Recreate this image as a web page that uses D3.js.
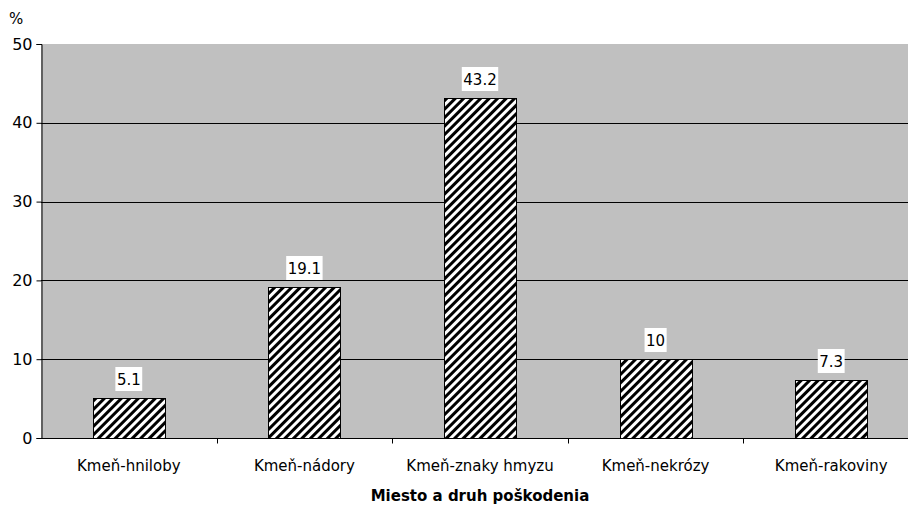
<!DOCTYPE html>
<html>
<head>
<meta charset="utf-8">
<script src="https://cdn.jsdelivr.net/npm/d3@7"></script>
<style>
  html, body { margin: 0; padding: 0; background: #fff; }
  svg { display: block; }
  text { font-family: "DejaVu Sans", sans-serif; fill: #000; }
</style>
</head>
<body>
<svg id="chart" width="908" height="506"></svg>
<script>
// Poškodenie kmeňa podľa druhu (%)
const categories = ["Kmeň-hniloby", "Kmeň-nádory", "Kmeň-znaky hmyzu", "Kmeň-nekrózy", "Kmeň-rakoviny"];
const values = [5.1, 19.1, 43.2, 10, 7.3];
const yTicks = [0, 10, 20, 30, 40, 50];
const yUnit = "%";
const xTitle = "Miesto a druh poškodenia";

const svg = d3.select("#chart");
const margin = { left: 41, top: 44, right: 919, bottom: 438 };

const x = d3.scaleBand().domain(categories).range([margin.left, margin.right]).paddingInner(0.59).paddingOuter(0.295);
const y = d3.scaleLinear().domain([0, 50]).range([margin.bottom, margin.top]);

// diagonal hatch fill for bars
const defs = svg.append("defs");
const pat = defs.append("pattern")
  .attr("id", "hatch").attr("patternUnits", "userSpaceOnUse")
  .attr("width", 6).attr("height", 6)
  .attr("patternTransform", "rotate(45)");
pat.append("rect").attr("width", 6).attr("height", 6).attr("fill", "#fff");
pat.append("rect").attr("x", 0).attr("width", 3).attr("height", 6).attr("fill", "#000");

// plot background
svg.append("rect")
  .attr("x", margin.left).attr("y", margin.top)
  .attr("width", margin.right - margin.left).attr("height", margin.bottom - margin.top)
  .attr("fill", "#c0c0c0");

// gridlines
svg.append("g").selectAll("line").data(yTicks.filter(d => d > 0 && d < 50)).join("line")
  .attr("x1", margin.left).attr("x2", margin.right)
  .attr("y1", d => Math.round(y(d)) + 0.5).attr("y2", d => Math.round(y(d)) + 0.5)
  .attr("stroke", "#000").attr("stroke-width", 1);

// y axis
const yAxis = svg.append("g")
  .attr("transform", `translate(${margin.left + 0.5},0)`)
  .call(d3.axisLeft(y).tickValues(yTicks).tickSize(5).tickPadding(4).tickFormat(d3.format("d")));
yAxis.select(".domain").attr("stroke", "#000");
yAxis.selectAll("text")
  .style("font-size", "16px")
  .attr("font-family", "DejaVu Sans Condensed, DejaVu Sans, sans-serif");

// x axis with ticks at band boundaries
const xAxisG = svg.append("g").attr("transform", `translate(0,${margin.bottom + 0.5})`);
xAxisG.append("line").attr("x1", margin.left).attr("x2", margin.right).attr("stroke", "#000");
const boundaries = d3.range(1, categories.length).map(i => margin.left + i * (margin.right - margin.left) / categories.length);
xAxisG.selectAll("line.tick").data(boundaries).join("line")
  .attr("class", "tick")
  .attr("x1", d => Math.round(d) + 0.5).attr("x2", d => Math.round(d) + 0.5)
  .attr("y1", 0).attr("y2", 5).attr("stroke", "#000");
xAxisG.selectAll("text").data(categories).join("text")
  .attr("x", d => x(d) + x.bandwidth() / 2)
  .attr("y", 32)
  .attr("text-anchor", "middle")
  .style("font-size", "15px")
  .text(d => d);

// bars
svg.append("g").selectAll("rect").data(values).join("rect")
  .attr("x", (d, i) => Math.round(x(categories[i])) + 0.5)
  .attr("y", d => Math.round(y(d)) + 0.5)
  .attr("width", x.bandwidth())
  .attr("height", d => Math.round(y(0)) - Math.round(y(d)))
  .attr("fill", "url(#hatch)")
  .attr("stroke", "#000").attr("stroke-width", 1);

// value labels with white boxes
const labels = svg.append("g").selectAll("g").data(values).join("g")
  .attr("transform", (d, i) => `translate(${x(categories[i]) + x.bandwidth() / 2},${Math.round(y(d)) - 13})`);
labels.append("text")
  .attr("text-anchor", "middle")
  .style("font-size", "15px")
  .attr("font-family", "DejaVu Sans Condensed, DejaVu Sans, sans-serif")
  .text(d => String(d));
labels.each(function () {
  const g = d3.select(this);
  const bb = g.select("text").node().getBBox();
  g.insert("rect", "text")
    .attr("x", bb.x - 1.5).attr("y", -18)
    .attr("width", bb.width + 3).attr("height", 24)
    .attr("fill", "#fff");
});

// unit label and axis title
svg.append("text").attr("x", 9).attr("y", 24).style("font-size", "15px").text(yUnit);
svg.append("text")
  .attr("x", (margin.left + margin.right) / 2).attr("y", 501)
  .attr("text-anchor", "middle")
  .style("font-size", "15px").style("font-weight", "bold")
  .text(xTitle);
</script>
</body>
</html>
